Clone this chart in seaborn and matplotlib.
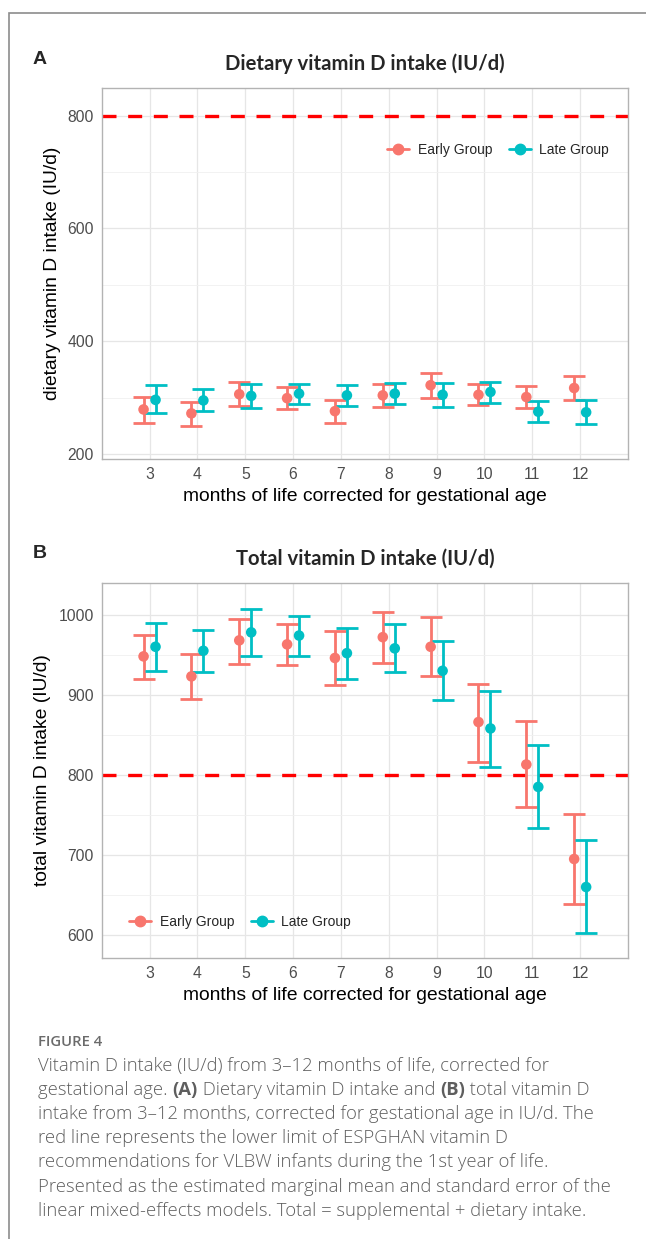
import numpy as np
import pandas as pd
import seaborn as sns
import matplotlib.pyplot as plt
from matplotlib.lines import Line2D
from matplotlib.patches import Rectangle

months = list(range(3, 13))
groups = ["Early Group", "Late Group"]
palette = {"Early Group": "#F8766D", "Late Group": "#00BFC4"}
limit = 800  # ESPGHAN lower limit

# (A) dietary intake: mean, lower, upper
diet_early = [279, 272, 306, 299, 276, 304, 322, 305, 301, 317]
diet_early_lo = [255, 250, 285, 280, 255, 283, 300, 286, 281, 296]
diet_early_hi = [301, 292, 327, 318, 296, 324, 343, 325, 321, 338]
diet_late = [296, 295, 303, 307, 304, 307, 305, 310, 275, 274]
diet_late_lo = [273, 277, 281, 289, 285, 288, 284, 291, 256, 253]
diet_late_hi = [322, 315, 325, 325, 323, 326, 326, 328, 294, 295]

# (B) total intake
tot_early = [948, 923, 968, 963, 946, 972, 960, 866, 813, 695]
tot_early_lo = [920, 895, 939, 937, 912, 940, 923, 816, 760, 639]
tot_early_hi = [975, 951, 995, 988, 980, 1004, 997, 914, 867, 751]
tot_late = [960, 955, 978, 974, 952, 958, 930, 858, 785, 660]
tot_late_lo = [930, 928, 949, 949, 920, 928, 893, 810, 734, 603]
tot_late_hi = [990, 981, 1007, 999, 984, 988, 967, 905, 837, 719]

caption_lines = [
    [("Vitamin D intake (IU/d) from 3\u201312 months of life, corrected for", False)],
    [("gestational age. ", False), ("(A)", True), (" Dietary vitamin D intake and ", False),
     ("(B)", True), (" total vitamin D", False)],
    [("intake from 3\u201312 months, corrected for gestational age in IU/d. The", False)],
    [("red line represents the lower limit of ESPGHAN vitamin D", False)],
    [("recommendations for VLBW infants during the 1st year of life.", False)],
    [("Presented as the estimated marginal mean and standard error of the", False)],
    [("linear mixed-effects models. Total = supplemental + dietary intake.", False)],
]


def make_frame(early, early_lo, early_hi, late, late_lo, late_hi):
    return pd.DataFrame({
        "month": months * 2,
        "group": [groups[0]] * len(months) + [groups[1]] * len(months),
        "mean": early + late,
        "lo": early_lo + late_lo,
        "hi": early_hi + late_hi,
    })


def draw_panel(ax, df, ylim, major, minor, ylab, title, ylab_x, leg_pos):
    df = df.copy()
    df["x"] = df["month"] + df["group"].map({groups[0]: -0.125, groups[1]: 0.125})
    ax.axhline(limit, color="#FF0000", lw=2.4, dashes=(4.2, 3.5), zorder=2)
    for g, sub in df.groupby("group"):
        ax.errorbar(sub["x"], sub["mean"],
                    yerr=[sub["mean"] - sub["lo"], sub["hi"] - sub["mean"]],
                    fmt="none", ecolor=palette[g], elinewidth=2.0,
                    capsize=7.7, capthick=2.0, zorder=3)
    sns.scatterplot(data=df, x="x", y="mean", hue="group", palette=palette,
                    s=58, edgecolor="none", linewidth=0, ax=ax, zorder=4,
                    legend=False)
    ax.set_xlim(2.0, 13.0)
    ax.set_ylim(*ylim)
    ax.set_xticks(months)
    ax.set_yticks(major)
    ax.set_yticks(minor, minor=True)
    ax.grid(which="major", color="#E6E6E6", lw=0.9)
    ax.grid(which="minor", axis="y", color="#F0F0F0", lw=0.6)
    ax.set_axisbelow(True)
    ax.tick_params(which="major", length=3.5, color="#B3B3B3",
                   labelcolor="#4D4D4D", labelsize=11.3, pad=2)
    ax.tick_params(which="minor", length=0)
    for s in ax.spines.values():
        s.set_color("#B3B3B3")
        s.set_linewidth(1.0)
    ax.set_xlabel("months of life corrected for gestational age",
                  fontsize=13.9, color="black", va="center")
    ax.set_ylabel(ylab, fontsize=13.9, color="black", va="center")
    h = ax.get_position().height * H
    ax.xaxis.set_label_coords(0.5, -37 / h)
    ax.yaxis.set_label_coords(ylab_x, 0.5)
    ax.set_title(title, fontsize=14.6, fontweight="bold", family=["Lato", "DejaVu Sans"],
                 pad=13)
    handles = [Line2D([0], [0], color=palette[g], marker="o", markersize=7.5, lw=2.0)
               for g in groups]
    ax.legend(handles, groups, loc="center", bbox_to_anchor=leg_pos, ncol=2,
              frameon=False, fontsize=10, handlelength=1.6, handletextpad=0.6,
              columnspacing=1.2)


sns.set_theme(style="white")
plt.rcParams["font.family"] = ["Liberation Sans", "DejaVu Sans"]

W, H = 646, 1239
fig = plt.figure(figsize=(W / 100, H / 100), dpi=100)
fig.patch.set_facecolor("white")

left, right = 101.7, 628
axA = fig.add_axes([left / W, 1 - 459.3 / H, (right - left) / W, (459.3 - 88) / H])
axB = fig.add_axes([left / W, 1 - 958.3 / H, (right - left) / W, (958.3 - 582.7) / H])

dfA = make_frame(diet_early, diet_early_lo, diet_early_hi,
                 diet_late, diet_late_lo, diet_late_hi)
dfB = make_frame(tot_early, tot_early_lo, tot_early_hi,
                 tot_late, tot_late_lo, tot_late_hi)

draw_panel(axA, dfA, (190.6, 849), [200, 400, 600, 800], [300, 500, 700],
           "dietary vitamin D intake (IU/d)", "Dietary vitamin D intake (IU/d)",
           (53 - left) / (right - left), (0.753, 0.833))
draw_panel(axB, dfB, (571, 1040), [600, 700, 800, 900, 1000], [650, 750, 850, 950],
           "total vitamin D intake (IU/d)", "Total vitamin D intake (IU/d)",
           (43 - left) / (right - left), (0.263, 0.097))

# panel letters
fig.text(33 / W, 1 - 59 / H, "A", fontsize=14, fontweight="bold", va="center")
fig.text(33 / W, 1 - 553 / H, "B", fontsize=14, fontweight="bold", va="center")

# outer frame of the figure box
fig.add_artist(Rectangle((9 / W, -0.1), 1.2, 1.1 - 13 / H, transform=fig.transFigure,
                         fill=False, edgecolor="#8C8C8C", lw=1.2))

# caption
cap_font = ["Open Sans", "DejaVu Sans"]
fig.text(38 / W, 1 - 1042 / H, "FIGURE 4", fontsize=10.7, color="#6B6B6B",
         family=cap_font, fontweight="semibold", va="center")
renderer = fig.canvas.get_renderer()
y0 = 1066
for i, parts in enumerate(caption_lines):
    x = 38
    y = 1 - (y0 + i * 24.1) / H
    for txt, bold in parts:
        t = fig.text(x / W, y, txt, fontsize=13.3, color="#5E5E5E", family=cap_font,
                     fontweight="bold" if bold else "light", va="center")
        x += t.get_window_extent(renderer).width

fig.savefig("out.png", dpi=100)
